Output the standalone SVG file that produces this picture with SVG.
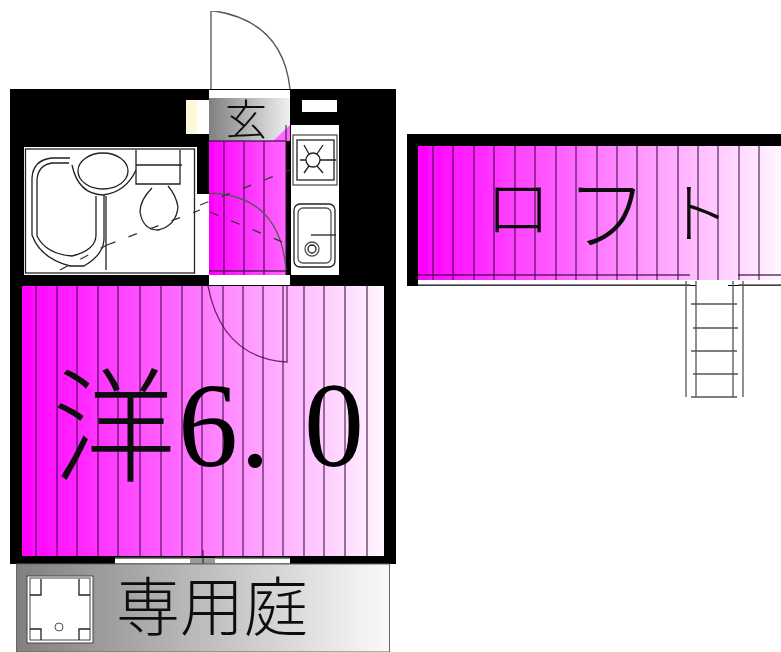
<svg xmlns="http://www.w3.org/2000/svg" width="781" height="652" viewBox="0 0 781 652">
<style>
.l{fill:none;stroke:#222;stroke-width:1.300}
.g{fill:none;stroke:#555;stroke-width:1.300}
.d{fill:none;stroke:#333;stroke-width:1.300;stroke-dasharray:9 14}
.v{stroke:#3c0a46;stroke-opacity:.8;stroke-width:1.300;fill:none}
.j{font-family:"Noto Sans CJK JP",sans-serif;font-weight:300;fill:#111}
.n{font-family:"Liberation Serif",serif;fill:#000}
</style>
<defs>
<linearGradient id="mg"><stop offset="0" stop-color="#ff00ff"/><stop offset="1" stop-color="#fff6ff"/></linearGradient>
<linearGradient id="cg"><stop offset="0" stop-color="#ff00ff"/><stop offset="1" stop-color="#ff66ff"/></linearGradient>
<linearGradient id="gg"><stop offset="0" stop-color="#808080"/><stop offset="1" stop-color="#fafafa"/></linearGradient>
<linearGradient id="eg"><stop offset="0" stop-color="#808080"/><stop offset="1" stop-color="#f0f0f0"/></linearGradient>
<filter id="soft" x="0" y="0" width="100%" height="100%"><feGaussianBlur stdDeviation="0.500"/></filter>
</defs>
<rect width="781" height="652" fill="#fff"/>
<g filter="url(#soft)">
<!-- entrance door -->
<path class="g" d="M211 89V11H215Q283 22 290 89"/>

<!-- main building -->
<rect x="10" y="89" width="386" height="475" fill="#000"/>
<rect x="209" y="90" width="81" height="8" fill="#fff"/>
<rect x="209" y="98" width="81" height="43" fill="url(#eg)"/>
<path d="M273 141L290 125V141Z" fill="#ff66ff"/>
<rect x="302" y="100" width="35" height="12" fill="#fff"/>
<rect x="186" y="100" width="11" height="34" fill="#fff8d8"/>
<rect x="197" y="100" width="12" height="34" fill="#fff"/>

<!-- bath -->
<rect x="24" y="147" width="173" height="128" fill="#fff"/>
<rect x="197" y="194" width="12" height="81" fill="#fff"/>
<rect x="25.500" y="149" width="169" height="124" class="l"/>
<path class="l" d="M70 158H52Q33 160 32 178V235Q40 258 70 266H84Q103 255 104 240V195"/>
<path class="l" d="M69 163H52Q38 165 37 180V236Q46 254 72 256Q96 250 96 235V196"/>
<ellipse cx="103" cy="171" rx="25" ry="18" class="l"/>
<path class="l" d="M72 165Q78 194 103 195Q126 192 136 170"/>
<path class="l" d="M106 196V270M136 150V184H180V150M136 165H182"/>
<path class="l" d="M152 188Q140 200 140 212Q143 230 158 230Q176 226 178 207Q176 195 168 186"/>
<path class="d" d="M107 245L200 210"/>
<path class="d" d="M60 270L107 245"/>

<!-- corridor -->
<rect x="209" y="141" width="77" height="134" fill="url(#cg)"/>
<path class="v" d="M224 141V275M244 141V275M264 141V275M209 141H286M209 271H286M286 125V275"/>
<rect x="209" y="275" width="81" height="10" fill="#fff"/>
<path class="g" d="M209 193Q280 195 286 270"/>
<path class="d" d="M200 205L290 170"/>
<path class="d" d="M210 212L292 246"/>

<!-- kitchen -->
<rect x="291" y="125" width="48" height="150" fill="#fff"/>
<rect x="293" y="135" width="44" height="50" class="g"/>
<rect x="297" y="140" width="37" height="40" class="l"/>
<circle cx="313" cy="160" r="7" class="l"/>
<path class="l" d="M300 160H306M320 160H336M304 145L309 154M323 145L317 154M304 173L309 166M323 173L317 166"/>
<rect x="294" y="204" width="41" height="63" rx="6" class="l"/>
<rect x="298" y="208" width="33" height="55" rx="5" class="g"/>
<path class="l" d="M311 235H336"/>
<circle cx="312" cy="249" r="4" class="l"/>
<circle cx="312" cy="249" r="7" class="g"/>

<!-- main room -->
<rect x="22" y="286" width="362" height="270" fill="url(#mg)"/>
<path class="v" d="M36 286V556M57 286V556M77 286V556M98 286V556M118 286V556M140 286V556M161 286V556M182 286V556M202 286V556M223 286V556M243 286V556M263 286V556M283 286V556M304 286V556M324 286V556M345 286V556M367 286V556"/>
<path class="v" d="M208 286Q222 358 287 362V286"/>
<rect x="115" y="558" width="175" height="6" fill="#fff"/>
<path class="g" d="M115 558H190M215 558H290M115 564H290"/>
<rect x="190" y="558" width="25" height="5" fill="#999"/>
<path class="v" d="M203 550V568"/>

<!-- garden -->
<rect x="16.500" y="564" width="373" height="88" fill="url(#gg)" stroke="#666"/>
<rect x="27" y="576" width="66" height="67" fill="#fff" stroke="#444"/>
<rect x="30" y="578" width="60" height="62" fill="none" stroke="#444"/>
<path class="l" d="M30 595H41V579M90 595H79V579M30 629H41V640M90 629H79V640"/>
<circle cx="59" cy="627" r="4" fill="none" stroke="#555"/>

<!-- loft -->
<rect x="407" y="134" width="374" height="152" fill="#000"/>
<rect x="418" y="146" width="363" height="134" fill="url(#mg)"/>
<rect x="418" y="280" width="363" height="5" fill="#fff"/>
<path class="v" d="M433 146V280M453 146V280M474 146V280M494 146V280M515 146V280M535 146V280M556 146V280M576 146V280M597 146V280M617 146V280M637 146V280M657 146V280M678 146V280M698 146V280M718 146V280M739 146V280M759 146V280"/>
<path class="v" d="M418 275H690M738 275H781"/>
<path class="g" d="M418 285H690M738 285H781"/>
<rect x="696" y="280" width="32" height="6" fill="#fff"/>
<path class="g" stroke-width="1.500" d="M686 281V397M696 281V397M733 281V397M743 281V397M691 304H737M693 328H738M691 351H737M693 374H738M691 397H737"/>

<!-- labels -->
<text class="j" x="225" y="135" font-size="42">玄</text>
<text class="j" x="52" y="472" font-size="124">洋</text>
<text class="n" font-size="120" x="178" y="466">6</text>
<text class="n" font-size="120" x="240" y="466">.</text>
<text class="n" font-size="120" x="304" y="466">0</text>
<text class="j" x="116" y="630" font-size="64">専用庭</text>
<text class="j" x="485" y="232" font-size="66">ロ</text>
<text class="j" x="566" y="244" font-size="82">フ</text>
<text class="j" x="664" y="237" font-size="66">ト</text>
</g>
</svg>
